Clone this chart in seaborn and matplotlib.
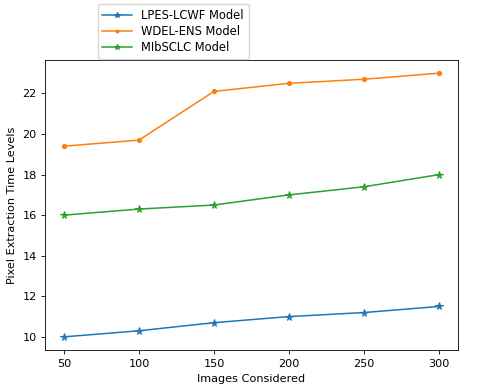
import matplotlib
matplotlib.use("Agg")
import matplotlib.pyplot as plt
import seaborn as sns
import pandas as pd

images = [50, 100, 150, 200, 250, 300]
lpes_lcwf = [10.0, 10.3, 10.7, 11.0, 11.2, 11.5]
wdel_ens = [19.4, 19.7, 22.1, 22.5, 22.7, 23.0]
mibsclc = [16.0, 16.3, 16.5, 17.0, 17.4, 18.0]

series = [("LPES-LCWF Model", lpes_lcwf, "*", "#1f77b4"),
          ("WDEL-ENS Model", wdel_ens, ".", "#ff7f0e"),
          ("MIbSCLC Model", mibsclc, "*", "#2ca02c")]

plt.rcParams['font.size'] = 8.1
fig = plt.figure(figsize=(4.8, 3.92), dpi=100)
ax = fig.add_axes([0.094, 0.107, 0.86, 0.74])

for name, vals, mk, col in series:
    df = pd.DataFrame({"x": images, "y": vals})
    sns.lineplot(data=df, x="x", y="y", marker=mk, color=col, label=name,
                 linewidth=1.1, markersize=5.5 if mk == "*" else 6,
                 markeredgecolor=col, ax=ax)

ax.set_xlabel("Images Considered")
ax.set_ylabel("Pixel Extraction Time Levels")
ax.set_xticks(images)
leg = ax.legend(loc="lower center", bbox_to_anchor=(0.31, 1.003), fontsize=8.3,
                handlelength=2.6, markerscale=0.7, labelspacing=0.3,
                borderaxespad=0)
for s in ax.spines.values():
    s.set_linewidth(0.6)
ax.tick_params(width=0.6, length=2.6)

fig.savefig("out.png", dpi=100)
